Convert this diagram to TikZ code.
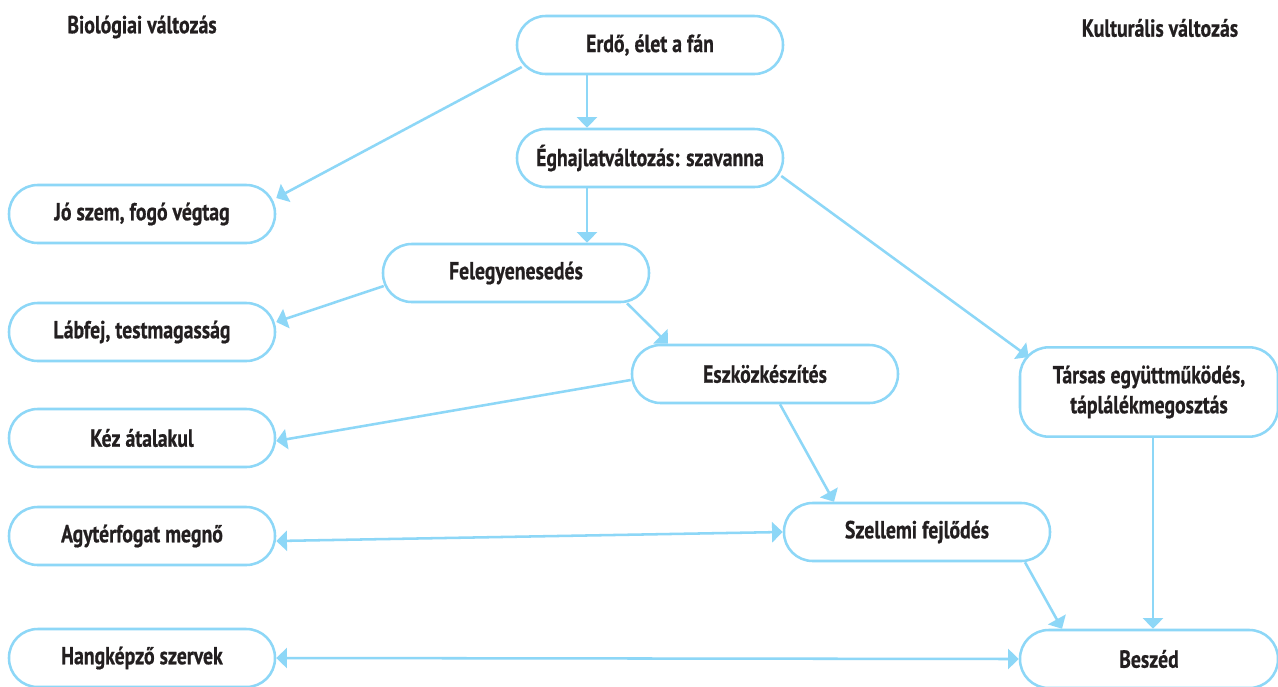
\documentclass[tikz,border=0pt]{standalone}
\usepackage{fontspec}
\setmainfont{PT Sans}[FakeStretch=0.8,BoldFeatures={FakeBold=0.6}]
\usetikzlibrary{arrows.meta}
\definecolor{lineblue}{HTML}{8DD7F7}
\definecolor{ink}{HTML}{231F20}
\begin{document}
\begin{tikzpicture}[x=0.75pt,y=-0.75pt,
  pill/.style={draw=lineblue,line width=1.9pt,rounded corners=21.5pt,
    minimum width=199.5pt,minimum height=43.5pt,inner sep=0pt,
    align=center,text=ink,font=\bfseries\fontsize{18.5}{22.5}\selectfont},
  heading/.style={text=ink,font=\bfseries\fontsize{18.5}{22.5}\selectfont},
  conn/.style={draw=lineblue,line width=1.9pt,-{Triangle[length=8pt,width=15pt]}},
  both/.style={conn,{Triangle[length=8pt,width=15pt]}-{Triangle[length=8pt,width=15pt]}}]
\useasboundingbox[fill=white] (0,0) rectangle (1278,686);
% headings
\node[heading] (bio) at (142,27) {Biológiai változás};
\node[heading] (kult) at (1160,28) {Kulturális változás};
% boxes
\node[pill] (erdo) at (650,45) {Erdő, élet a fán};
\node[pill] (eghajlat) at (650,158) {Éghajlatváltozás: szavanna};
\node[pill] (jo) at (142,214) {Jó szem, fogó végtag};
\node[pill] (fel) at (516,273) {Felegyenesedés};
\node[pill] (labfej) at (142,332) {Lábfej, testmagasság};
\node[pill] (eszkoz) at (765,374) {Eszközkészítés};
\node[pill,minimum width=193.5pt,minimum height=67pt] (tarsas) at (1149,392)
  {Társas együttműködés,\\táplálékmegosztás};
\node[pill] (kez) at (142,438) {Kéz átalakul};
\node[pill] (agy) at (142,536) {Agytérfogat megnő};
\node[pill] (szell) at (917,532) {Szellemi fejlődés};
\node[pill] (hang) at (142,658) {Hangképző szervek};
\node[pill,minimum width=193.5pt] (beszed) at (1149,659) {Beszéd};
% connectors
\draw[conn] ([shift={(-63,0)}]erdo.south) -- ([shift={(-63,0)}]erdo.south |- eghajlat.north);
\draw[conn] ([shift={(6,22)}]erdo.west) -- ([shift={(0,-16)}]jo.east);
\draw[conn] ([shift={(-63,0)}]eghajlat.south) -- ([shift={(-63,0)}]eghajlat.south |- fel.north);
\draw[conn] ([shift={(-3,18)}]eghajlat.east) -- ([shift={(10,-35)}]tarsas.west);
\draw[conn] ([shift={(2,13)}]fel.west) -- ([shift={(0,-10)}]labfej.east);
\draw[conn] ([shift={(111,0)}]fel.south) -- ([shift={(-97,0)}]eszkoz.north);
\draw[conn] ([shift={(0,6)}]eszkoz.west) -- ([shift={(0,3)}]kez.east);
\draw[conn] ([shift={(15,0)}]eszkoz.south) -- ([shift={(-83,0)}]szell.north);
\draw[both] ([shift={(0,5)}]agy.east) -- (szell.west);
\draw[conn] ([shift={(108,0)}]szell.south) -- ([shift={(-87,0)}]beszed.north);
\draw[conn] ([shift={(4,0)}]tarsas.south) -- ([shift={(4,0)}]tarsas.south |- beszed.north);
\draw[both] (hang.east) -- (beszed.west);
\end{tikzpicture}
\end{document}
